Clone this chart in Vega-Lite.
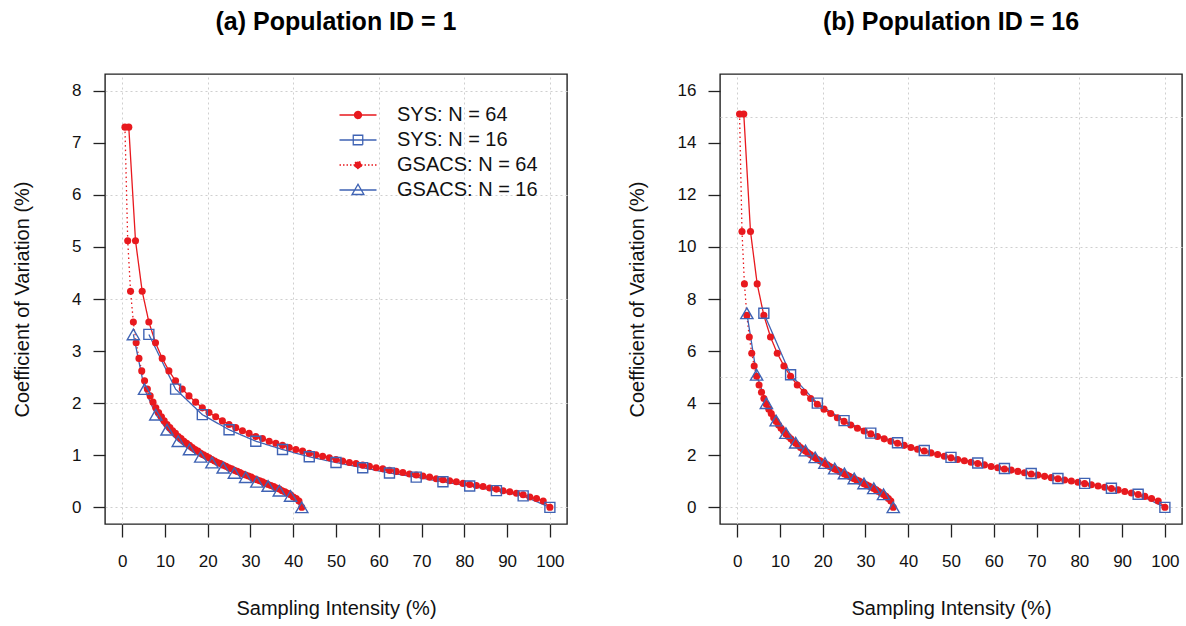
{
"$schema": "https://vega.github.io/schema/vega-lite/v6.json",
"background": "white",
"padding": {"left": 11, "top": 9, "right": 2, "bottom": 2},
"spacing": 58,
"config": {
  "view": {"stroke": "#222222", "strokeWidth": 1.4},
  "axis": {"labelFont": "Liberation Sans", "titleFont": "Liberation Sans", "labelColor": "#111111", "titleColor": "#111111", "titleFontWeight": "normal", "tickColor": "#222222", "tickWidth": 1.3, "domain": false},
  "legend": {"labelFont": "Liberation Sans"}
},
"datasets": {
"a": [
{"s":"SYS64","x":1.56,"y":7.3},{"s":"SYS64","x":3.13,"y":5.12},{"s":"SYS64","x":4.69,"y":4.15},{"s":"SYS64","x":6.25,"y":3.56},{"s":"SYS64","x":7.81,"y":3.16},{"s":"SYS64","x":9.38,"y":2.86},{"s":"SYS64","x":10.94,"y":2.62},{"s":"SYS64","x":12.5,"y":2.43},{"s":"SYS64","x":14.06,"y":2.27},{"s":"SYS64","x":15.63,"y":2.14},{"s":"SYS64","x":17.19,"y":2.02},{"s":"SYS64","x":18.75,"y":1.91},{"s":"SYS64","x":20.31,"y":1.82},{"s":"SYS64","x":21.88,"y":1.74},{"s":"SYS64","x":23.44,"y":1.66},{"s":"SYS64","x":25,"y":1.59},{"s":"SYS64","x":26.56,"y":1.53},{"s":"SYS64","x":28.13,"y":1.47},{"s":"SYS64","x":29.69,"y":1.42},{"s":"SYS64","x":31.25,"y":1.36},{"s":"SYS64","x":32.81,"y":1.32},{"s":"SYS64","x":34.38,"y":1.27},{"s":"SYS64","x":35.94,"y":1.23},{"s":"SYS64","x":37.5,"y":1.19},{"s":"SYS64","x":39.06,"y":1.15},{"s":"SYS64","x":40.63,"y":1.11},{"s":"SYS64","x":42.19,"y":1.08},{"s":"SYS64","x":43.75,"y":1.04},{"s":"SYS64","x":45.31,"y":1.01},{"s":"SYS64","x":46.88,"y":0.98},{"s":"SYS64","x":48.44,"y":0.95},{"s":"SYS64","x":50,"y":0.92},{"s":"SYS64","x":51.56,"y":0.89},{"s":"SYS64","x":53.13,"y":0.86},{"s":"SYS64","x":54.69,"y":0.84},{"s":"SYS64","x":56.25,"y":0.81},{"s":"SYS64","x":57.81,"y":0.79},{"s":"SYS64","x":59.38,"y":0.76},{"s":"SYS64","x":60.94,"y":0.74},{"s":"SYS64","x":62.5,"y":0.71},{"s":"SYS64","x":64.06,"y":0.69},{"s":"SYS64","x":65.63,"y":0.67},{"s":"SYS64","x":67.19,"y":0.64},{"s":"SYS64","x":68.75,"y":0.62},{"s":"SYS64","x":70.31,"y":0.6},{"s":"SYS64","x":71.88,"y":0.58},{"s":"SYS64","x":73.44,"y":0.55},{"s":"SYS64","x":75,"y":0.53},{"s":"SYS64","x":76.56,"y":0.51},{"s":"SYS64","x":78.13,"y":0.49},{"s":"SYS64","x":79.69,"y":0.46},{"s":"SYS64","x":81.25,"y":0.44},{"s":"SYS64","x":82.81,"y":0.42},{"s":"SYS64","x":84.38,"y":0.4},{"s":"SYS64","x":85.94,"y":0.37},{"s":"SYS64","x":87.5,"y":0.35},{"s":"SYS64","x":89.06,"y":0.32},{"s":"SYS64","x":90.63,"y":0.3},{"s":"SYS64","x":92.19,"y":0.27},{"s":"SYS64","x":93.75,"y":0.24},{"s":"SYS64","x":95.31,"y":0.2},{"s":"SYS64","x":96.88,"y":0.17},{"s":"SYS64","x":98.44,"y":0.12},{"s":"SYS64","x":100,"y":0},
{"s":"SYS16","x":6.25,"y":3.32},{"s":"SYS16","x":12.5,"y":2.27},{"s":"SYS16","x":18.75,"y":1.78},{"s":"SYS16","x":25,"y":1.49},{"s":"SYS16","x":31.25,"y":1.27},{"s":"SYS16","x":37.5,"y":1.11},{"s":"SYS16","x":43.75,"y":0.97},{"s":"SYS16","x":50,"y":0.86},{"s":"SYS16","x":56.25,"y":0.76},{"s":"SYS16","x":62.5,"y":0.66},{"s":"SYS16","x":68.75,"y":0.58},{"s":"SYS16","x":75,"y":0.49},{"s":"SYS16","x":81.25,"y":0.41},{"s":"SYS16","x":87.5,"y":0.32},{"s":"SYS16","x":93.75,"y":0.22},{"s":"SYS16","x":100,"y":0},
{"s":"GS64","x":0.66,"y":7.3},{"s":"GS64","x":1.31,"y":5.12},{"s":"GS64","x":1.97,"y":4.15},{"s":"GS64","x":2.63,"y":3.56},{"s":"GS64","x":3.28,"y":3.16},{"s":"GS64","x":3.94,"y":2.86},{"s":"GS64","x":4.59,"y":2.62},{"s":"GS64","x":5.25,"y":2.43},{"s":"GS64","x":5.91,"y":2.27},{"s":"GS64","x":6.56,"y":2.14},{"s":"GS64","x":7.22,"y":2.02},{"s":"GS64","x":7.88,"y":1.91},{"s":"GS64","x":8.53,"y":1.82},{"s":"GS64","x":9.19,"y":1.74},{"s":"GS64","x":9.84,"y":1.66},{"s":"GS64","x":10.5,"y":1.59},{"s":"GS64","x":11.16,"y":1.53},{"s":"GS64","x":11.81,"y":1.47},{"s":"GS64","x":12.47,"y":1.42},{"s":"GS64","x":13.13,"y":1.36},{"s":"GS64","x":13.78,"y":1.32},{"s":"GS64","x":14.44,"y":1.27},{"s":"GS64","x":15.09,"y":1.23},{"s":"GS64","x":15.75,"y":1.19},{"s":"GS64","x":16.41,"y":1.15},{"s":"GS64","x":17.06,"y":1.11},{"s":"GS64","x":17.72,"y":1.08},{"s":"GS64","x":18.38,"y":1.04},{"s":"GS64","x":19.03,"y":1.01},{"s":"GS64","x":19.69,"y":0.98},{"s":"GS64","x":20.34,"y":0.95},{"s":"GS64","x":21,"y":0.92},{"s":"GS64","x":21.66,"y":0.89},{"s":"GS64","x":22.31,"y":0.86},{"s":"GS64","x":22.97,"y":0.84},{"s":"GS64","x":23.63,"y":0.81},{"s":"GS64","x":24.28,"y":0.79},{"s":"GS64","x":24.94,"y":0.76},{"s":"GS64","x":25.59,"y":0.74},{"s":"GS64","x":26.25,"y":0.71},{"s":"GS64","x":26.91,"y":0.69},{"s":"GS64","x":27.56,"y":0.67},{"s":"GS64","x":28.22,"y":0.64},{"s":"GS64","x":28.88,"y":0.62},{"s":"GS64","x":29.53,"y":0.6},{"s":"GS64","x":30.19,"y":0.58},{"s":"GS64","x":30.84,"y":0.55},{"s":"GS64","x":31.5,"y":0.53},{"s":"GS64","x":32.16,"y":0.51},{"s":"GS64","x":32.81,"y":0.49},{"s":"GS64","x":33.47,"y":0.46},{"s":"GS64","x":34.13,"y":0.44},{"s":"GS64","x":34.78,"y":0.42},{"s":"GS64","x":35.44,"y":0.4},{"s":"GS64","x":36.09,"y":0.37},{"s":"GS64","x":36.75,"y":0.35},{"s":"GS64","x":37.41,"y":0.32},{"s":"GS64","x":38.06,"y":0.3},{"s":"GS64","x":38.72,"y":0.27},{"s":"GS64","x":39.38,"y":0.24},{"s":"GS64","x":40.03,"y":0.2},{"s":"GS64","x":40.69,"y":0.17},{"s":"GS64","x":41.34,"y":0.12},{"s":"GS64","x":42,"y":0},
{"s":"GS16","x":2.63,"y":3.32},{"s":"GS16","x":5.25,"y":2.27},{"s":"GS16","x":7.88,"y":1.78},{"s":"GS16","x":10.5,"y":1.49},{"s":"GS16","x":13.13,"y":1.27},{"s":"GS16","x":15.75,"y":1.11},{"s":"GS16","x":18.38,"y":0.97},{"s":"GS16","x":21,"y":0.86},{"s":"GS16","x":23.63,"y":0.76},{"s":"GS16","x":26.25,"y":0.66},{"s":"GS16","x":28.88,"y":0.58},{"s":"GS16","x":31.5,"y":0.49},{"s":"GS16","x":34.13,"y":0.41},{"s":"GS16","x":36.75,"y":0.32},{"s":"GS16","x":39.38,"y":0.22},{"s":"GS16","x":42,"y":0}
],
"b": [
{"s":"SYS64","x":1.56,"y":15.1},{"s":"SYS64","x":3.13,"y":10.59},{"s":"SYS64","x":4.69,"y":8.58},{"s":"SYS64","x":6.25,"y":7.37},{"s":"SYS64","x":7.81,"y":6.54},{"s":"SYS64","x":9.38,"y":5.92},{"s":"SYS64","x":10.94,"y":5.43},{"s":"SYS64","x":12.5,"y":5.03},{"s":"SYS64","x":14.06,"y":4.7},{"s":"SYS64","x":15.63,"y":4.42},{"s":"SYS64","x":17.19,"y":4.18},{"s":"SYS64","x":18.75,"y":3.96},{"s":"SYS64","x":20.31,"y":3.77},{"s":"SYS64","x":21.88,"y":3.6},{"s":"SYS64","x":23.44,"y":3.44},{"s":"SYS64","x":25,"y":3.3},{"s":"SYS64","x":26.56,"y":3.16},{"s":"SYS64","x":28.13,"y":3.04},{"s":"SYS64","x":29.69,"y":2.93},{"s":"SYS64","x":31.25,"y":2.82},{"s":"SYS64","x":32.81,"y":2.72},{"s":"SYS64","x":34.38,"y":2.63},{"s":"SYS64","x":35.94,"y":2.54},{"s":"SYS64","x":37.5,"y":2.46},{"s":"SYS64","x":39.06,"y":2.38},{"s":"SYS64","x":40.63,"y":2.3},{"s":"SYS64","x":42.19,"y":2.23},{"s":"SYS64","x":43.75,"y":2.16},{"s":"SYS64","x":45.31,"y":2.09},{"s":"SYS64","x":46.88,"y":2.03},{"s":"SYS64","x":48.44,"y":1.96},{"s":"SYS64","x":50,"y":1.9},{"s":"SYS64","x":51.56,"y":1.84},{"s":"SYS64","x":53.13,"y":1.79},{"s":"SYS64","x":54.69,"y":1.73},{"s":"SYS64","x":56.25,"y":1.68},{"s":"SYS64","x":57.81,"y":1.63},{"s":"SYS64","x":59.38,"y":1.57},{"s":"SYS64","x":60.94,"y":1.52},{"s":"SYS64","x":62.5,"y":1.47},{"s":"SYS64","x":64.06,"y":1.43},{"s":"SYS64","x":65.63,"y":1.38},{"s":"SYS64","x":67.19,"y":1.33},{"s":"SYS64","x":68.75,"y":1.28},{"s":"SYS64","x":70.31,"y":1.24},{"s":"SYS64","x":71.88,"y":1.19},{"s":"SYS64","x":73.44,"y":1.14},{"s":"SYS64","x":75,"y":1.1},{"s":"SYS64","x":76.56,"y":1.05},{"s":"SYS64","x":78.13,"y":1.01},{"s":"SYS64","x":79.69,"y":0.96},{"s":"SYS64","x":81.25,"y":0.91},{"s":"SYS64","x":82.81,"y":0.87},{"s":"SYS64","x":84.38,"y":0.82},{"s":"SYS64","x":85.94,"y":0.77},{"s":"SYS64","x":87.5,"y":0.72},{"s":"SYS64","x":89.06,"y":0.67},{"s":"SYS64","x":90.63,"y":0.61},{"s":"SYS64","x":92.19,"y":0.55},{"s":"SYS64","x":93.75,"y":0.49},{"s":"SYS64","x":95.31,"y":0.42},{"s":"SYS64","x":96.88,"y":0.34},{"s":"SYS64","x":98.44,"y":0.24},{"s":"SYS64","x":100,"y":0},
{"s":"SYS16","x":6.25,"y":7.45},{"s":"SYS16","x":12.5,"y":5.09},{"s":"SYS16","x":18.75,"y":4.0},{"s":"SYS16","x":25,"y":3.33},{"s":"SYS16","x":31.25,"y":2.85},{"s":"SYS16","x":37.5,"y":2.48},{"s":"SYS16","x":43.75,"y":2.18},{"s":"SYS16","x":50,"y":1.92},{"s":"SYS16","x":56.25,"y":1.7},{"s":"SYS16","x":62.5,"y":1.49},{"s":"SYS16","x":68.75,"y":1.3},{"s":"SYS16","x":75,"y":1.11},{"s":"SYS16","x":81.25,"y":0.92},{"s":"SYS16","x":87.5,"y":0.73},{"s":"SYS16","x":93.75,"y":0.5},{"s":"SYS16","x":100,"y":0},
{"s":"GS64","x":0.57,"y":15.1},{"s":"GS64","x":1.14,"y":10.59},{"s":"GS64","x":1.71,"y":8.58},{"s":"GS64","x":2.28,"y":7.37},{"s":"GS64","x":2.85,"y":6.54},{"s":"GS64","x":3.42,"y":5.92},{"s":"GS64","x":3.99,"y":5.43},{"s":"GS64","x":4.56,"y":5.03},{"s":"GS64","x":5.13,"y":4.7},{"s":"GS64","x":5.7,"y":4.42},{"s":"GS64","x":6.27,"y":4.18},{"s":"GS64","x":6.84,"y":3.96},{"s":"GS64","x":7.41,"y":3.77},{"s":"GS64","x":7.98,"y":3.6},{"s":"GS64","x":8.55,"y":3.44},{"s":"GS64","x":9.13,"y":3.3},{"s":"GS64","x":9.7,"y":3.16},{"s":"GS64","x":10.27,"y":3.04},{"s":"GS64","x":10.84,"y":2.93},{"s":"GS64","x":11.41,"y":2.82},{"s":"GS64","x":11.98,"y":2.72},{"s":"GS64","x":12.55,"y":2.63},{"s":"GS64","x":13.12,"y":2.54},{"s":"GS64","x":13.69,"y":2.46},{"s":"GS64","x":14.26,"y":2.38},{"s":"GS64","x":14.83,"y":2.3},{"s":"GS64","x":15.4,"y":2.23},{"s":"GS64","x":15.97,"y":2.16},{"s":"GS64","x":16.54,"y":2.09},{"s":"GS64","x":17.11,"y":2.03},{"s":"GS64","x":17.68,"y":1.96},{"s":"GS64","x":18.25,"y":1.9},{"s":"GS64","x":18.82,"y":1.84},{"s":"GS64","x":19.39,"y":1.79},{"s":"GS64","x":19.96,"y":1.73},{"s":"GS64","x":20.53,"y":1.68},{"s":"GS64","x":21.1,"y":1.63},{"s":"GS64","x":21.67,"y":1.57},{"s":"GS64","x":22.24,"y":1.52},{"s":"GS64","x":22.81,"y":1.47},{"s":"GS64","x":23.38,"y":1.43},{"s":"GS64","x":23.95,"y":1.38},{"s":"GS64","x":24.52,"y":1.33},{"s":"GS64","x":25.09,"y":1.28},{"s":"GS64","x":25.66,"y":1.24},{"s":"GS64","x":26.23,"y":1.19},{"s":"GS64","x":26.8,"y":1.14},{"s":"GS64","x":27.38,"y":1.1},{"s":"GS64","x":27.95,"y":1.05},{"s":"GS64","x":28.52,"y":1.01},{"s":"GS64","x":29.09,"y":0.96},{"s":"GS64","x":29.66,"y":0.91},{"s":"GS64","x":30.23,"y":0.87},{"s":"GS64","x":30.8,"y":0.82},{"s":"GS64","x":31.37,"y":0.77},{"s":"GS64","x":31.94,"y":0.72},{"s":"GS64","x":32.51,"y":0.67},{"s":"GS64","x":33.08,"y":0.61},{"s":"GS64","x":33.65,"y":0.55},{"s":"GS64","x":34.22,"y":0.49},{"s":"GS64","x":34.79,"y":0.42},{"s":"GS64","x":35.36,"y":0.34},{"s":"GS64","x":35.93,"y":0.24},{"s":"GS64","x":36.5,"y":0},
{"s":"GS16","x":2.28,"y":7.45},{"s":"GS16","x":4.56,"y":5.09},{"s":"GS16","x":6.84,"y":4.0},{"s":"GS16","x":9.13,"y":3.33},{"s":"GS16","x":11.41,"y":2.85},{"s":"GS16","x":13.69,"y":2.48},{"s":"GS16","x":15.97,"y":2.18},{"s":"GS16","x":18.25,"y":1.92},{"s":"GS16","x":20.53,"y":1.7},{"s":"GS16","x":22.81,"y":1.49},{"s":"GS16","x":25.09,"y":1.3},{"s":"GS16","x":27.38,"y":1.11},{"s":"GS16","x":29.66,"y":0.92},{"s":"GS16","x":31.94,"y":0.73},{"s":"GS16","x":34.22,"y":0.5},{"s":"GS16","x":36.5,"y":0}
]
},
"hconcat": [
{
  "width": 462, "height": 450,
  "title": {"text": "(a) Population ID = 1", "font": "Liberation Sans", "fontSize": 25, "fontWeight": "bold", "anchor": "middle", "frame": "group", "color": "#000000", "baseline": "alphabetic", "offset": 19},
  "data": {"name": "a"},
  "resolve": {"axis": {"x": "independent", "y": "independent"}},
  "layer": [
    {"mark": {"type": "line", "strokeWidth": 1.3},
     "encoding": {
       "x": {"field": "x", "type": "quantitative", "scale": {"domain": [-4, 104], "nice": false, "zero": false},
             "axis": {"values": [0,10,20,30,40,50,60,70,80,90,100], "grid": false, "tickSize": 13, "labelPadding": 16, "labelFontSize": 17, "labelFlush": false, "labelOverlap": false, "title": "Sampling Intensity (%)", "titleFontSize": 20, "titleY": 84, "titleBaseline": "middle"}},
       "y": {"field": "y", "type": "quantitative", "scale": {"domain": [-0.32, 8.32], "nice": false, "zero": false},
             "axis": {"values": [0,1,2,3,4,5,6,7,8], "grid": false, "tickSize": 12, "labelPadding": 12, "labelFontSize": 17, "title": "Coefficient of Variation (%)", "titleFontSize": 20, "titleX": -83, "titleBaseline": "middle"}},
       "color": {"field": "s", "type": "nominal", "scale": {"domain": ["SYS64","SYS16","GS64","GS16"], "range": ["#E8191E","#3F63B4","#E8191E","#3F63B4"]},
         "legend": {"title": null, "orient": "none", "legendX": 243, "legendY": 31, "labelFontSize": 20, "labelOffset": 29, "rowPadding": 5, "symbolSize": 100, "labelColor": "#111111",
           "labelExpr": "datum.value === 'SYS64' ? 'SYS: N = 64' : datum.value === 'SYS16' ? 'SYS: N = 16' : datum.value === 'GS64' ? 'GSACS: N = 64' : 'GSACS: N = 16'",
           "encode": {"symbols": {"update": {
             "shape": {"signal": "datum.value === 'SYS64' ? 'M-3.7,0H3.7M-0.7,0A0.7,0.7,0,1,0,0.7,0A0.7,0.7,0,1,0,-0.7,0Z' : datum.value === 'SYS16' ? 'M-3.7,0H3.7M-0.95,-0.95H0.95V0.95H-0.95Z' : datum.value === 'GS64' ? 'M-3.7,0H-3.4M-3,0H-2.7M-2.3,0H-2M-1.6,0H-1.3M-0.9,0H-0.6M0.6,0H0.9M1.3,0H1.6M2,0H2.3M2.7,0H3M3.4,0H3.7M-0.7,0A0.7,0.7,0,1,0,0.7,0A0.7,0.7,0,1,0,-0.7,0Z' : 'M-3.7,0H3.7M0,-1.15L1.18,0.9H-1.18Z'"},
             "fill": {"signal": "datum.value === 'SYS64' || datum.value === 'GS64' ? '#E8191E' : 'transparent'"},
             "stroke": {"signal": "datum.value === 'SYS64' || datum.value === 'GS64' ? '#E8191E' : '#3F63B4'"},
             "strokeWidth": {"value": 1.3}, "strokeDash": {"value": [1, 0]}, "size": {"value": 100}, "opacity": {"value": 1}, "fillOpacity": {"value": 1}}}}}},
       "strokeDash": {"field": "s", "type": "nominal", "scale": {"domain": ["SYS64","SYS16","GS64","GS16"], "range": [[1,0],[1,0],[1.5,3],[1,0]]}, "legend": null}
     }},
    {"transform": [{"filter": "datum.s === 'SYS64'"}],
     "mark": {"type": "point", "shape": "circle", "filled": true, "size": 50, "color": "#E8191E", "opacity": 1},
     "encoding": {
       "x": {"field": "x", "type": "quantitative", "axis": {"orient": "top", "values": [0,20,40,60,80,100], "grid": true, "gridColor": "#cfcfcf", "gridDash": [2,3], "gridWidth": 1, "labels": false, "ticks": false, "domain": false, "title": null}},
       "y": {"field": "y", "type": "quantitative", "axis": {"orient": "right", "values": [0,2,4,6,8], "grid": true, "gridColor": "#cfcfcf", "gridDash": [2,3], "gridWidth": 1, "labels": false, "ticks": false, "domain": false, "title": null}}}},
    {"transform": [{"filter": "datum.s === 'SYS16'"}],
     "mark": {"type": "point", "shape": "square", "filled": false, "size": 100, "color": "#3F63B4", "strokeWidth": 1.4, "opacity": 1},
     "encoding": {"x": {"field": "x", "type": "quantitative", "axis": null}, "y": {"field": "y", "type": "quantitative", "axis": null}}},
    {"transform": [{"filter": "datum.s === 'GS64'"}],
     "mark": {"type": "point", "shape": "circle", "filled": true, "size": 50, "color": "#E8191E", "opacity": 1},
     "encoding": {"x": {"field": "x", "type": "quantitative", "axis": null}, "y": {"field": "y", "type": "quantitative", "axis": null}}},
    {"transform": [{"filter": "datum.s === 'GS16'"}],
     "mark": {"type": "point", "shape": "triangle-up", "filled": false, "size": 150, "color": "#3F63B4", "strokeWidth": 1.4, "opacity": 1},
     "encoding": {"x": {"field": "x", "type": "quantitative", "axis": null}, "y": {"field": "y", "type": "quantitative", "axis": null}}}
  ]
},
{
  "width": 462, "height": 450,
  "title": {"text": "(b) Population ID = 16", "font": "Liberation Sans", "fontSize": 25, "fontWeight": "bold", "anchor": "middle", "frame": "group", "color": "#000000", "baseline": "alphabetic", "offset": 19},
  "data": {"name": "b"},
  "resolve": {"axis": {"x": "independent", "y": "independent"}},
  "layer": [
    {"mark": {"type": "line", "strokeWidth": 1.3},
     "encoding": {
       "x": {"field": "x", "type": "quantitative", "scale": {"domain": [-4, 104], "nice": false, "zero": false},
             "axis": {"values": [0,10,20,30,40,50,60,70,80,90,100], "grid": false, "tickSize": 13, "labelPadding": 16, "labelFontSize": 17, "labelFlush": false, "labelOverlap": false, "title": "Sampling Intensity (%)", "titleFontSize": 20, "titleY": 84, "titleBaseline": "middle"}},
       "y": {"field": "y", "type": "quantitative", "scale": {"domain": [-0.64, 16.64], "nice": false, "zero": false},
             "axis": {"values": [0,2,4,6,8,10,12,14,16], "grid": false, "tickSize": 12, "labelPadding": 12, "labelFontSize": 17, "title": "Coefficient of Variation (%)", "titleFontSize": 20, "titleX": -83, "titleBaseline": "middle"}},
       "color": {"field": "s", "type": "nominal", "scale": {"domain": ["SYS64","SYS16","GS64","GS16"], "range": ["#E8191E","#3F63B4","#E8191E","#3F63B4"]},
         "legend": {"title": null, "orient": "none", "legendX": 243, "legendY": 31, "labelFontSize": 20, "labelOffset": 29, "rowPadding": 5, "symbolSize": 100, "labelColor": "#111111",
           "labelExpr": "datum.value === 'SYS64' ? 'SYS: N = 64' : datum.value === 'SYS16' ? 'SYS: N = 16' : datum.value === 'GS64' ? 'GSACS: N = 64' : 'GSACS: N = 16'",
           "encode": {"symbols": {"update": {
             "shape": {"signal": "datum.value === 'SYS64' ? 'M-3.7,0H3.7M-0.7,0A0.7,0.7,0,1,0,0.7,0A0.7,0.7,0,1,0,-0.7,0Z' : datum.value === 'SYS16' ? 'M-3.7,0H3.7M-0.95,-0.95H0.95V0.95H-0.95Z' : datum.value === 'GS64' ? 'M-3.7,0H-3.4M-3,0H-2.7M-2.3,0H-2M-1.6,0H-1.3M-0.9,0H-0.6M0.6,0H0.9M1.3,0H1.6M2,0H2.3M2.7,0H3M3.4,0H3.7M-0.7,0A0.7,0.7,0,1,0,0.7,0A0.7,0.7,0,1,0,-0.7,0Z' : 'M-3.7,0H3.7M0,-1.15L1.18,0.9H-1.18Z'"},
             "fill": {"signal": "datum.value === 'SYS64' || datum.value === 'GS64' ? '#E8191E' : 'transparent'"},
             "stroke": {"signal": "datum.value === 'SYS64' || datum.value === 'GS64' ? '#E8191E' : '#3F63B4'"},
             "strokeWidth": {"value": 1.3}, "strokeDash": {"value": [1, 0]}, "size": {"value": 100}, "opacity": {"value": 1}, "fillOpacity": {"value": 1}}}}}},
       "strokeDash": {"field": "s", "type": "nominal", "scale": {"domain": ["SYS64","SYS16","GS64","GS16"], "range": [[1,0],[1,0],[1.5,3],[1,0]]}, "legend": null}
     }},
    {"transform": [{"filter": "datum.s === 'SYS64'"}],
     "mark": {"type": "point", "shape": "circle", "filled": true, "size": 50, "color": "#E8191E", "opacity": 1},
     "encoding": {
       "x": {"field": "x", "type": "quantitative", "axis": {"orient": "top", "values": [0,20,40,60,80,100], "grid": true, "gridColor": "#cfcfcf", "gridDash": [2,3], "gridWidth": 1, "labels": false, "ticks": false, "domain": false, "title": null}},
       "y": {"field": "y", "type": "quantitative", "axis": {"orient": "right", "values": [0,5,10,15], "grid": true, "gridColor": "#cfcfcf", "gridDash": [2,3], "gridWidth": 1, "labels": false, "ticks": false, "domain": false, "title": null}}}},
    {"transform": [{"filter": "datum.s === 'SYS16'"}],
     "mark": {"type": "point", "shape": "square", "filled": false, "size": 100, "color": "#3F63B4", "strokeWidth": 1.4, "opacity": 1},
     "encoding": {"x": {"field": "x", "type": "quantitative", "axis": null}, "y": {"field": "y", "type": "quantitative", "axis": null}}},
    {"transform": [{"filter": "datum.s === 'GS64'"}],
     "mark": {"type": "point", "shape": "circle", "filled": true, "size": 50, "color": "#E8191E", "opacity": 1},
     "encoding": {"x": {"field": "x", "type": "quantitative", "axis": null}, "y": {"field": "y", "type": "quantitative", "axis": null}}},
    {"transform": [{"filter": "datum.s === 'GS16'"}],
     "mark": {"type": "point", "shape": "triangle-up", "filled": false, "size": 150, "color": "#3F63B4", "strokeWidth": 1.4, "opacity": 1},
     "encoding": {"x": {"field": "x", "type": "quantitative", "axis": null}, "y": {"field": "y", "type": "quantitative", "axis": null}}}
  ]
}
]
}
